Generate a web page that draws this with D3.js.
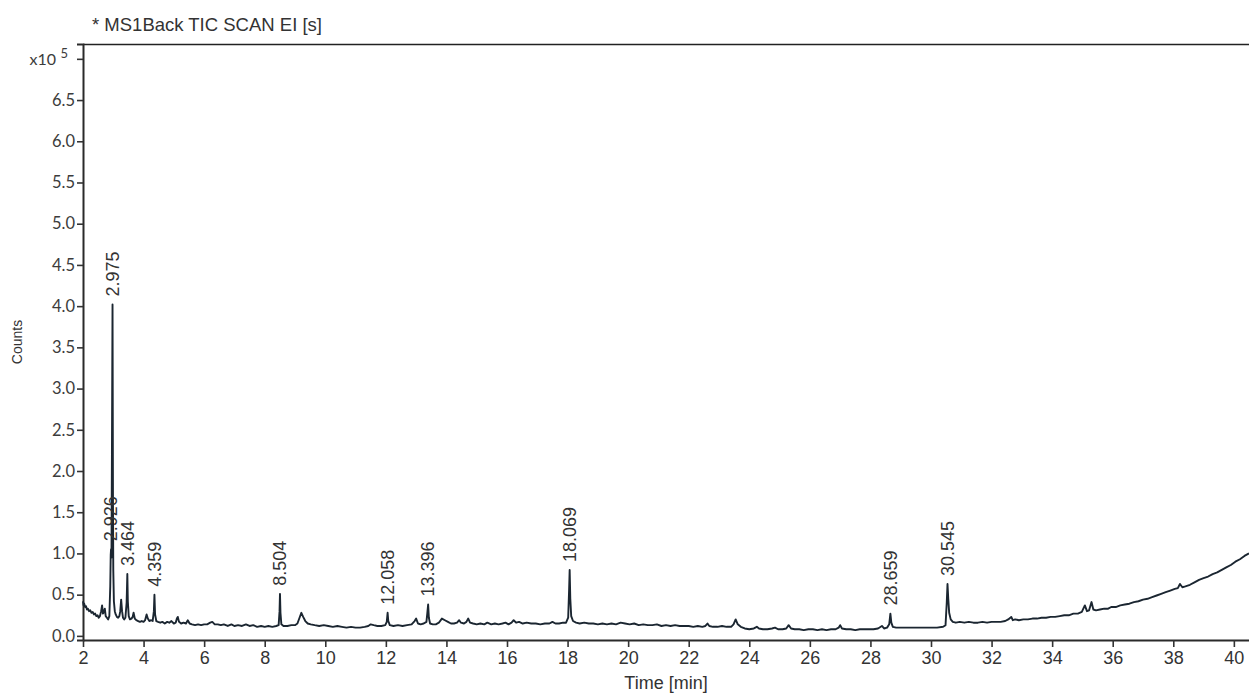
<!DOCTYPE html>
<html>
<head>
<meta charset="utf-8">
<script src="https://cdn.jsdelivr.net/npm/d3@7"></script>
<style>
  body { margin: 0; background: #fff; }
  .ytick text { font-family: Lato, "Open Sans", sans-serif; font-size: 16.5px; fill: #3c3c3c; }
  .xtick text { font-family: "Liberation Sans", Arial, sans-serif; font-size: 18px; fill: #333; }
  .peak { font-family: "Liberation Sans", Arial, sans-serif; font-size: 18px; fill: #333; }
</style>
</head>
<body>
<div id="chart"></div>
<script>
// TIC trace: [time (min), counts (x10^5)]
var ticTrace = [
  [2.00,0.42],[2.02,0.37],[2.04,0.39],[2.07,0.35],[2.10,0.36],[2.13,0.32],[2.16,0.33],[2.20,0.30],
  [2.24,0.31],[2.28,0.28],[2.32,0.29],[2.36,0.26],[2.40,0.27],[2.44,0.24],[2.48,0.25],[2.52,0.22],
  [2.56,0.24],[2.60,0.30],[2.63,0.37],[2.66,0.27],[2.69,0.29],[2.72,0.33],[2.75,0.24],[2.79,0.22],
  [2.83,0.20],[2.87,0.24],[2.90,0.60],[2.915,0.98],[2.926,1.05],[2.94,0.95],[2.955,2.20],[2.975,4.02],
  [2.99,1.60],[3.00,0.80],[3.02,0.42],[3.05,0.30],[3.08,0.26],[3.12,0.23],[3.16,0.22],[3.20,0.24],
  [3.23,0.30],[3.26,0.44],[3.29,0.30],[3.32,0.22],[3.36,0.20],[3.40,0.22],[3.44,0.40],[3.464,0.75],
  [3.48,0.42],[3.51,0.24],[3.55,0.20],[3.60,0.21],[3.64,0.23],[3.67,0.28],[3.71,0.21],[3.76,0.19],
  [3.82,0.18],[3.88,0.17],[3.94,0.18],[4.00,0.17],[4.05,0.19],[4.10,0.26],[4.14,0.21],[4.19,0.18],
  [4.25,0.19],[4.30,0.18],[4.34,0.30],[4.359,0.50],[4.38,0.26],[4.42,0.18],[4.48,0.17],[4.55,0.16],
  [4.62,0.17],[4.70,0.15],[4.78,0.17],[4.85,0.16],[4.92,0.18],[5.00,0.15],[5.06,0.16],[5.10,0.21],
  [5.13,0.23],[5.17,0.17],[5.24,0.15],[5.32,0.16],[5.40,0.15],[5.46,0.19],[5.52,0.15],[5.60,0.14],
  [5.70,0.13],[5.80,0.14],[5.90,0.13],[6.00,0.14],[6.10,0.14],[6.20,0.16],[6.27,0.17],[6.35,0.14],
  [6.45,0.14],[6.55,0.13],[6.65,0.14],[6.78,0.12],[6.90,0.14],[7.00,0.12],[7.12,0.13],[7.25,0.12],
  [7.38,0.14],[7.50,0.12],[7.62,0.13],[7.75,0.11],[7.88,0.12],[8.00,0.11],[8.12,0.12],[8.25,0.11],
  [8.38,0.12],[8.46,0.13],[8.49,0.30],[8.504,0.51],[8.52,0.28],[8.55,0.14],[8.62,0.12],[8.75,0.12],
  [8.88,0.13],[9.00,0.13],[9.08,0.15],[9.15,0.22],[9.21,0.28],[9.27,0.23],[9.34,0.18],[9.42,0.15],
  [9.52,0.14],[9.65,0.13],[9.80,0.12],[9.95,0.13],[10.10,0.12],[10.25,0.11],[10.40,0.12],[10.55,0.11],
  [10.70,0.10],[10.85,0.11],[11.00,0.10],[11.15,0.10],[11.30,0.11],[11.42,0.12],[11.50,0.14],[11.60,0.13],
  [11.72,0.12],[11.85,0.12],[11.98,0.13],[12.03,0.17],[12.058,0.28],[12.08,0.18],[12.13,0.13],[12.25,0.12],
  [12.40,0.13],[12.55,0.12],[12.70,0.13],[12.85,0.14],[12.95,0.18],[13.00,0.21],[13.06,0.15],[13.15,0.14],
  [13.25,0.15],[13.34,0.17],[13.37,0.28],[13.396,0.38],[13.42,0.22],[13.46,0.15],[13.55,0.14],[13.65,0.14],
  [13.75,0.16],[13.85,0.21],[13.95,0.19],[14.05,0.17],[14.15,0.15],[14.25,0.15],[14.35,0.16],[14.42,0.19],
  [14.48,0.16],[14.58,0.15],[14.66,0.17],[14.72,0.21],[14.78,0.16],[14.88,0.15],[15.00,0.14],[15.12,0.15],
  [15.25,0.14],[15.35,0.16],[15.48,0.14],[15.60,0.15],[15.72,0.14],[15.85,0.15],[15.95,0.16],[16.05,0.14],
  [16.15,0.16],[16.22,0.19],[16.30,0.16],[16.40,0.17],[16.52,0.15],[16.65,0.16],[16.80,0.15],[16.95,0.15],
  [17.10,0.14],[17.25,0.15],[17.40,0.15],[17.50,0.17],[17.60,0.15],[17.72,0.15],[17.85,0.16],[17.95,0.16],
  [18.02,0.22],[18.05,0.55],[18.069,0.80],[18.09,0.45],[18.12,0.24],[18.18,0.18],[18.28,0.16],[18.40,0.15],
  [18.55,0.16],[18.70,0.15],[18.85,0.15],[19.00,0.14],[19.15,0.15],[19.30,0.14],[19.45,0.15],[19.60,0.14],
  [19.75,0.16],[19.90,0.15],[20.05,0.14],[20.20,0.15],[20.35,0.13],[20.50,0.14],[20.65,0.13],[20.80,0.13],
  [20.95,0.14],[21.10,0.12],[21.25,0.13],[21.40,0.12],[21.55,0.13],[21.70,0.12],[21.85,0.12],[22.00,0.12],
  [22.15,0.11],[22.30,0.12],[22.45,0.11],[22.55,0.12],[22.62,0.15],[22.68,0.12],[22.80,0.11],[22.95,0.11],
  [23.10,0.12],[23.25,0.11],[23.40,0.11],[23.48,0.14],[23.55,0.20],[23.62,0.14],[23.72,0.11],[23.85,0.09],
  [24.00,0.08],[24.15,0.09],[24.25,0.11],[24.32,0.09],[24.45,0.08],[24.60,0.08],[24.75,0.09],[24.85,0.10],
  [24.95,0.08],[25.10,0.08],[25.22,0.09],[25.30,0.13],[25.38,0.09],[25.50,0.08],[25.65,0.08],[25.80,0.07],
  [25.95,0.08],[26.10,0.08],[26.25,0.07],[26.40,0.08],[26.55,0.07],[26.70,0.08],[26.85,0.08],[26.95,0.10],
  [27.00,0.13],[27.06,0.09],[27.20,0.08],[27.35,0.08],[27.50,0.07],[27.65,0.08],[27.80,0.08],[27.95,0.08],
  [28.10,0.08],[28.25,0.09],[28.38,0.12],[28.45,0.09],[28.55,0.10],[28.62,0.14],[28.659,0.27],[28.69,0.16],
  [28.74,0.11],[28.85,0.10],[29.00,0.10],[29.20,0.10],[29.40,0.10],[29.60,0.10],[29.80,0.10],[30.00,0.10],
  [30.20,0.10],[30.40,0.11],[30.48,0.13],[30.52,0.40],[30.545,0.63],[30.57,0.45],[30.60,0.28],[30.65,0.20],
  [30.72,0.17],[30.82,0.16],[30.95,0.17],[31.10,0.16],[31.25,0.17],[31.40,0.16],[31.55,0.16],[31.70,0.17],
  [31.85,0.16],[32.00,0.17],[32.15,0.17],[32.30,0.17],[32.45,0.18],[32.55,0.20],[32.65,0.23],[32.70,0.19],
  [32.78,0.20],[32.90,0.19],[33.05,0.20],[33.20,0.20],[33.35,0.21],[33.50,0.21],[33.65,0.22],[33.80,0.22],
  [33.95,0.23],[34.10,0.23],[34.25,0.24],[34.40,0.25],[34.55,0.25],[34.70,0.27],[34.85,0.27],[34.98,0.29],
  [35.08,0.37],[35.15,0.30],[35.22,0.31],[35.30,0.41],[35.36,0.32],[35.45,0.31],[35.58,0.32],[35.72,0.33],
  [35.85,0.33],[35.95,0.35],[36.10,0.35],[36.25,0.37],[36.40,0.38],[36.55,0.39],[36.70,0.41],[36.85,0.42],
  [37.00,0.44],[37.15,0.45],[37.30,0.47],[37.45,0.49],[37.60,0.51],[37.75,0.53],[37.90,0.55],[38.05,0.57],
  [38.15,0.58],[38.22,0.63],[38.30,0.59],[38.40,0.60],[38.55,0.62],[38.70,0.65],[38.85,0.68],[39.00,0.70],
  [39.15,0.72],[39.30,0.75],[39.45,0.77],[39.60,0.80],[39.75,0.83],[39.90,0.86],[40.05,0.90],[40.20,0.93],
  [40.35,0.97],[40.50,1.00]
];

// labelled peaks
var peakTimes = [2.926, 2.975, 3.464, 4.359, 8.504, 12.058, 13.396, 18.069, 28.659, 30.545];
var peakLabels = ['2.926', '2.975', '3.464', '4.359', '8.504', '12.058', '13.396', '18.069', '28.659', '30.545'];

var xTicks = d3.range(2, 41, 2);
var yTicks = [0, 0.5, 1, 1.5, 2, 2.5, 3, 3.5, 4, 4.5, 5, 5.5, 6, 6.5, 7];

var W = 1249, H = 695;
var margin = {top: 44, right: 0, bottom: 55, left: 83};

var svg = d3.select('#chart')
    .append('svg')
    .attr('width', W)
    .attr('height', H);

var x = d3.scaleLinear()
    .domain([2, 40.5])
    .range([margin.left, W - margin.right]);

var y = d3.scaleLinear()
    .domain([-0.05, 7.18])
    .range([H - margin.bottom, margin.top]);

// frame top line
svg.append('line')
    .attr('x1', margin.left).attr('x2', W)
    .attr('y1', margin.top + 0.5).attr('y2', margin.top + 0.5)
    .attr('stroke', '#222').attr('stroke-width', 1.6);

// y axis
var yAxis = svg.append('g')
    .attr('class', 'ytick')
    .attr('transform', `translate(${margin.left},0)`)
    .call(d3.axisLeft(y)
        .tickValues(yTicks)
        .tickSize(6)
        .tickPadding(2)
        .tickFormat(function(d) { return d === 7 ? '' : d3.format('.1f')(d); }));
yAxis.select('.domain').attr('stroke', '#2a2a2a').attr('stroke-width', 2);
yAxis.selectAll('.tick line').attr('stroke', '#333').attr('stroke-width', 1.6);

// x axis
var xAxis = svg.append('g')
    .attr('class', 'xtick')
    .attr('transform', `translate(0,${H - margin.bottom})`)
    .call(d3.axisBottom(x)
        .tickValues(xTicks)
        .tickSize(7)
        .tickSizeOuter(0)
        .tickPadding(4)
        .tickFormat(d3.format('d')));
xAxis.select('.domain').attr('stroke', '#2a2a2a').attr('stroke-width', 2.2);
xAxis.selectAll('.tick line').attr('stroke', '#333').attr('stroke-width', 1.6);

// x10^5 multiplier at the top tick
svg.append('text')
    .attr('x', margin.left - 27)
    .attr('y', y(7) + 6)
    .attr('text-anchor', 'end')
    .style('font-family', 'Lato, "Open Sans", sans-serif')
    .style('font-size', '16px')
    .style('fill', '#3c3c3c')
    .text('x10');
svg.append('text')
    .attr('x', margin.left - 15)
    .attr('y', y(7) - 1)
    .attr('text-anchor', 'end')
    .style('font-family', 'Lato, "Open Sans", sans-serif')
    .style('font-size', '13px')
    .style('fill', '#3c3c3c')
    .text('5');

// trace
var line = d3.line()
    .x(function(d) { return x(d[0]); })
    .y(function(d) { return y(d[1]); });

svg.append('path')
    .datum(ticTrace)
    .attr('fill', 'none')
    .attr('stroke', '#1b2631')
    .attr('stroke-width', 1.9)
    .attr('stroke-linejoin', 'round')
    .attr('d', line);

// peak labels, placed over each apex
peakTimes.forEach(function(t, i) {
    var near = ticTrace.filter(function(d) { return Math.abs(d[0] - t) < 0.005; });
    var apex = d3.max(near, function(d) { return d[1]; });
    var px = x(t), py = y(apex) - 8;
    svg.append('text')
        .attr('class', 'peak')
        .attr('transform', `translate(${px},${py})rotate(-90)`)
        .attr('dy', '0.35em')
        .text(peakLabels[i]);
});

// titles
svg.append('text')
    .attr('x', 92)
    .attr('y', 31)
    .style('font-family', '"Liberation Sans", Arial, sans-serif')
    .style('font-size', '18.5px')
    .style('fill', '#333')
    .text('* MS1Back TIC SCAN EI [s]');

svg.append('text')
    .attr('transform', `translate(22,${(margin.top + H - margin.bottom) / 2})rotate(-90)`)
    .attr('text-anchor', 'middle')
    .style('font-family', '"Liberation Sans", Arial, sans-serif')
    .style('font-size', '14px')
    .style('fill', '#333')
    .text('Counts');

svg.append('text')
    .attr('x', (margin.left + W) / 2)
    .attr('y', 689)
    .attr('text-anchor', 'middle')
    .style('font-family', '"Liberation Sans", Arial, sans-serif')
    .style('font-size', '18px')
    .style('fill', '#333')
    .text('Time [min]');
</script>
</body>
</html>
